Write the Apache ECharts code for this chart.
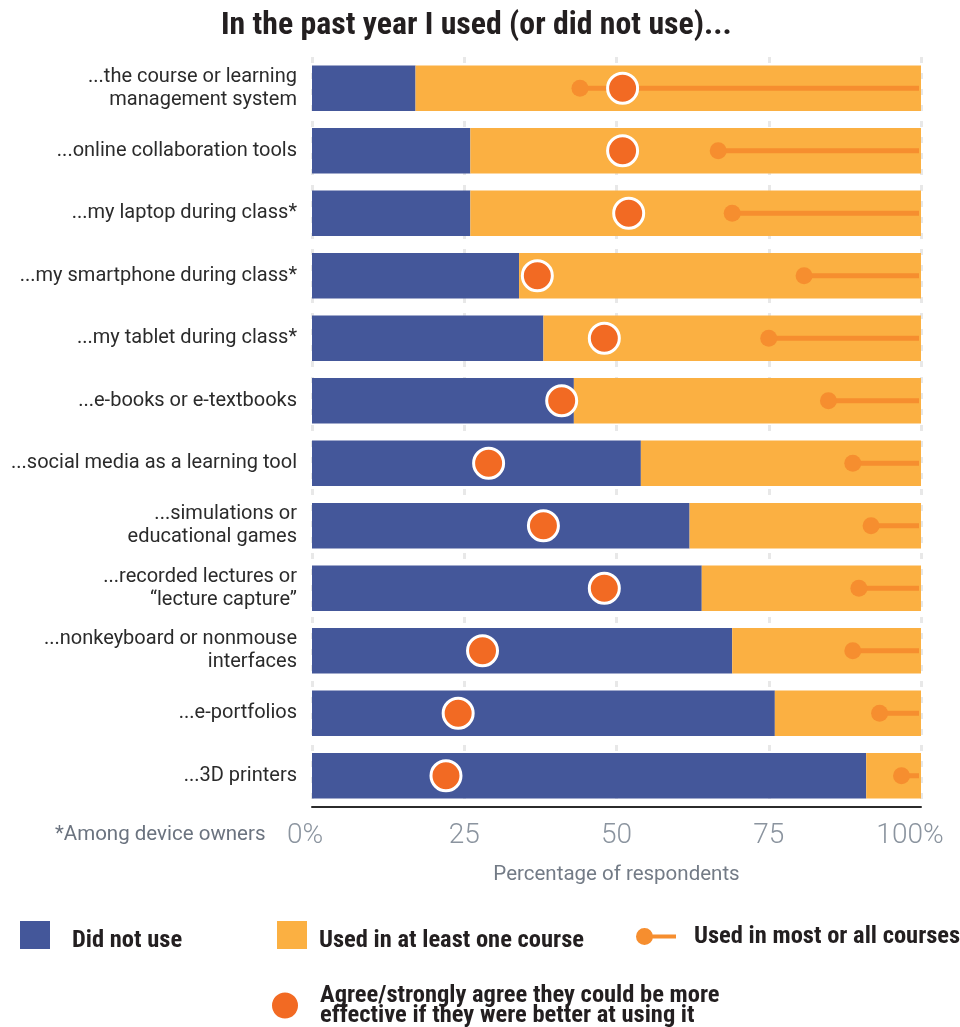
<!DOCTYPE html>
<html>
<head>
<meta charset="utf-8">
<style>
  html, body { margin: 0; padding: 0; background: #ffffff; }
  #chart { width: 960px; height: 1027px; }
</style>
<script src="https://cdn.jsdelivr.net/npm/echarts@6/dist/echarts.min.js"></script>
</head>
<body>
<div id="chart"></div>
<script>
// Technology items, top to bottom
const categories = [
  '...the course or learning\nmanagement system',
  '...online collaboration tools',
  '...my laptop during class*',
  '...my smartphone during class*',
  '...my tablet during class*',
  '...e-books or e-textbooks',
  '...social media as a learning tool',
  '...simulations or\neducational games',
  '...recorded lectures or\n\u201Clecture capture\u201D',
  '...nonkeyboard or nonmouse\ninterfaces',
  '...e-portfolios',
  '...3D printers'
];

// Percent of respondents who did not use the item
const didNotUse = [17, 26, 26, 34, 38, 43, 54, 62, 64, 69, 76, 91];

// Percent who used it in at least one course
const usedAtLeastOne = [83, 74, 74, 66, 62, 57, 46, 38, 36, 31, 24, 9];

// Position of the "used in most or all courses" marker (line runs to 100%)
const usedMostAll = [44, 66.7, 69, 80.8, 75, 84.8, 88.8, 91.8, 89.8, 88.8, 93.2, 96.8];

// Percent who agree they could be more effective if better at using it
const agreeEffective = [51, 51, 52, 37, 48, 41, 29, 38, 48, 28, 24, 22];

// Axis tick labels
const tickLabels = { 0: '0%', 25: '25', 50: '50', 75: '75', 100: '100%' };

const BLUE = '#44579a';
const YELLOW = '#fbb042';
const DOT = '#f68e2f';
const AGREE = '#f26a23';

const chart = echarts.init(document.getElementById('chart'), null, { renderer: 'canvas' });

const NARROW = '"Liberation Sans Narrow", "Roboto Condensed", Roboto, sans-serif';
const legendText = (pad) => ({
  fontFamily: NARROW,
  fontWeight: 'bold',
  fontSize: 24.5,
  color: '#231f20',
  padding: [0, 0, 0, pad]
});
// Square-swatch legends: text sits a little below the swatch centre
const lowText = {
  t: {
    fontFamily: NARROW,
    fontWeight: 'bold',
    fontSize: 24.5,
    color: '#231f20',
    lineHeight: 36,
    verticalAlign: 'bottom'
  }
};

const AGREE_NAME = 'Agree/strongly agree they could be more\neffective if they were better at using it';

chart.setOption({
  animation: false,
  backgroundColor: '#ffffff',
  title: {
    text: 'In the past year I used (or did not use)...',
    left: 216,
    top: 5,
    textStyle: {
      fontFamily: NARROW,
      fontWeight: 'bold',
      fontSize: 31.8,
      color: '#231f20'
    }
  },
  legend: [
    {
      data: ['Did not use'],
      left: 20, top: 921, padding: 0,
      itemWidth: 30, itemHeight: 28,
      icon: 'rect',
      formatter: '{t|{name}}',
      textStyle: Object.assign(legendText(17), { rich: lowText }),
      selectedMode: false
    },
    {
      data: ['Used in at least one course'],
      left: 277, top: 921, padding: 0,
      itemWidth: 30, itemHeight: 28,
      icon: 'rect',
      formatter: '{t|{name}}',
      textStyle: Object.assign(legendText(7), { rich: lowText }),
      selectedMode: false
    },
    {
      data: [{
        name: 'Used in most or all courses',
        icon: 'path://M0,8.5a8.5,8.5 0 1,1 17,0a8.5,8.5 0 1,1 -17,0Z M8.5,6.5L40,6.5L40,10.5L8.5,10.5Z',
        itemStyle: { color: DOT }
      }],
      left: 636, top: 924, padding: 0,
      itemWidth: 40, itemHeight: 17,
      textStyle: legendText(13),
      selectedMode: false
    },
    {
      data: [{ name: AGREE_NAME, icon: 'circle' }],
      left: 270, top: 983, padding: 0,
      itemWidth: 28, itemHeight: 28,
      textStyle: Object.assign(legendText(16), { lineHeight: 20 }),
      selectedMode: false
    }
  ],
  graphic: [
    {
      type: 'text',
      left: 55, top: 824,
      style: {
        text: '*Among device owners',
        fontFamily: 'Roboto, "Noto Sans", sans-serif',
        fontSize: 20.5,
        fill: '#6b737f'
      }
    }
  ],
  grid: { left: 312, right: 39, top: 57, bottom: 220, containLabel: false },
  xAxis: {
    type: 'value',
    min: 0, max: 100, interval: 25,
    axisLine: { show: true, lineStyle: { color: '#2b2b2b', width: 2 } },
    axisTick: { show: false },
    splitLine: {
      show: true,
      lineStyle: { color: '#e8e8e8', width: 3, type: [6, 10] }
    },
    axisLabel: {
      margin: 15,
      fontFamily: 'Roboto, "Noto Sans", sans-serif',
      fontSize: 28,
      fontWeight: 300,
      color: '#8b949f',
      formatter: v => {
        if (v === 0) return '{a|' + tickLabels[v] + '}';
        if (v === 100) return '{b|' + tickLabels[v] + '}';
        return tickLabels[v];
      },
      rich: {
        a: { fontFamily: 'Roboto, "Noto Sans", sans-serif', fontSize: 28, fontWeight: 300, color: '#8b949f', padding: [0, 14, 0, 0] },
        b: { fontFamily: 'Roboto, "Noto Sans", sans-serif', fontSize: 28, fontWeight: 300, color: '#8b949f', padding: [0, 22, 0, 0] }
      }
    },
    name: 'Percentage of respondents',
    nameLocation: 'middle',
    nameGap: 57,
    nameTextStyle: {
      fontFamily: 'Roboto, "Noto Sans", sans-serif',
      fontSize: 20.5,
      color: '#737b86'
    }
  },
  yAxis: {
    type: 'category',
    data: categories,
    inverse: true,
    axisLine: { show: false },
    axisTick: { show: false },
    axisLabel: {
      margin: 15,
      fontFamily: 'Roboto, "Noto Sans", sans-serif',
      fontSize: 20,
      lineHeight: 23,
      color: '#2b2b2b',
      padding: [0, 0, 9, 0]
    }
  },
  series: [
    {
      name: 'Did not use',
      type: 'bar',
      stack: 'use',
      barWidth: '72.5%',
      itemStyle: { color: BLUE },
      data: didNotUse,
      z: 2
    },
    {
      name: 'Used in at least one course',
      type: 'bar',
      stack: 'use',
      barWidth: '72.5%',
      itemStyle: { color: YELLOW },
      data: usedAtLeastOne,
      z: 2
    },
    {
      name: 'Used in most or all courses',
      type: 'custom',
      itemStyle: { color: DOT },
      data: usedMostAll.map((v, i) => [v, i]),
      encode: { x: 0, y: 1 },
      z: 3,
      renderItem: function (params, api) {
        const start = api.coord([api.value(0), api.value(1)]);
        const end = api.coord([100, api.value(1)]);
        return {
          type: 'group',
          children: [
            {
              type: 'rect',
              shape: { x: start[0], y: start[1] - 2.5, width: end[0] - 2 - start[0], height: 5 },
              style: { fill: DOT }
            },
            {
              type: 'circle',
              shape: { cx: start[0], cy: start[1], r: 8.5 },
              style: { fill: DOT }
            }
          ]
        };
      }
    },
    {
      name: AGREE_NAME,
      type: 'scatter',
      symbol: 'circle',
      symbolSize: 30,
      itemStyle: { color: AGREE, borderColor: '#ffffff', borderWidth: 3, opacity: 1 },
      data: agreeEffective.map((v, i) => [v, i]),
      z: 4
    }
  ]
});
</script>
</body>
</html>
